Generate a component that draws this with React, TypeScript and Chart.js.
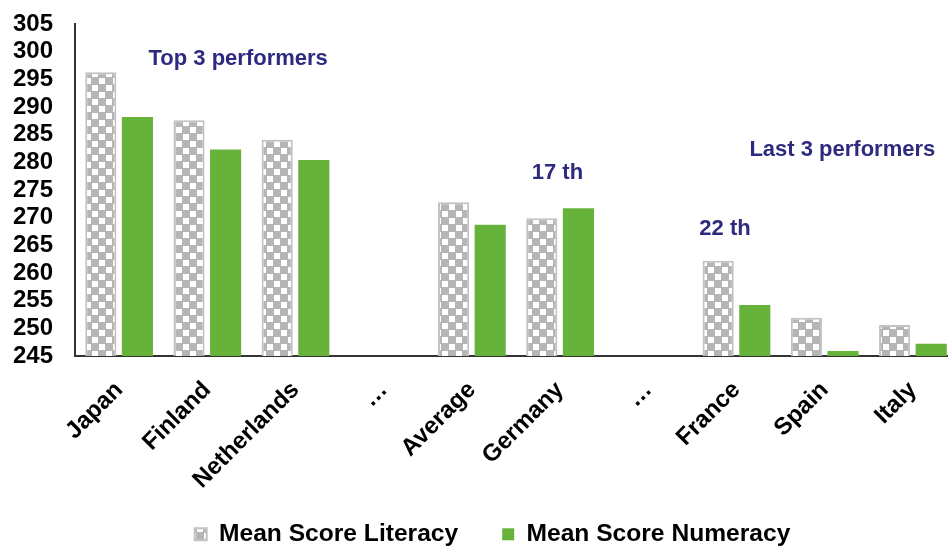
import React, { useEffect, useRef } from "react";
import { Chart, registerables } from "chart.js";

Chart.register(...registerables);

const categories = ["Japan", "Finland", "Netherlands", "…", "Average", "Germany", "…", "France", "Spain", "Italy"];
const literacy = [296.3, 287.6, 284.1, null, 272.8, 269.9, null, 262.2, 251.9, 250.6];
const numeracy = [288.2, 282.3, 280.4, null, 268.7, 271.7, null, 254.2, 245.9, 247.2];
const yTicks = [245, 250, 255, 260, 265, 270, 275, 280, 285, 290, 295, 300, 305];
const seriesNames = ["Mean Score Literacy", "Mean Score Numeracy"];

const annotationTexts = ["Top 3 performers", "17 th", "22 th", "Last 3 performers"];
const annotationCat = [1.35, 4.97, 6.87, 8.2];
const annotationVal = [298.6, 278.1, 268.0, 282.2];

const FONT = "'Liberation Sans', Arial, sans-serif";
const X_AXIS_HEIGHT = 140;
const PLOT_BOTTOM = 356;
const LEGEND_TEXT_Y = 534;

export default function App() {
  const ref = useRef<HTMLCanvasElement | null>(null);

  useEffect(() => {
    const canvas = ref.current;
    if (!canvas) return;
    const ctx = canvas.getContext("2d")!;

    const tile = document.createElement("canvas");
    tile.width = 14;
    tile.height = 14;
    const g = tile.getContext("2d")!;
    g.fillStyle = "#b5b5b5";
    g.fillRect(0, 0, 14, 14);
    g.fillStyle = "#ffffff";
    g.fillRect(8, 1, 6, 6);
    g.fillRect(1, 8, 6, 6);
    const pattern = ctx.createPattern(tile, "repeat")!;

    const annotations = {
      id: "annotations",
      afterDatasetsDraw(chart: any) {
        const x = chart.scales.x;
        const y = chart.scales.y;
        const x0 = x.getPixelForValue(0);
        const x1 = x.getPixelForValue(1);
        const c = chart.ctx;
        c.save();
        c.fillStyle = "#2e2a80";
        c.font = `bold 22px ${FONT}`;
        c.textAlign = "center";
        c.textBaseline = "middle";
        annotationTexts.forEach((t, i) => {
          c.fillText(t, x0 + annotationCat[i] * (x1 - x0), y.getPixelForValue(annotationVal[i]));
        });
        c.restore();
      },
    };

    const legendLayout = {
      id: "legendLayout",
      beforeLayout(chart: any) {
        const l = chart.legend;
        if (l && !l.__patched) {
          const orig = l.fit.bind(l);
          l.fit = function () {
            orig();
            this.height = chart.height - PLOT_BOTTOM - X_AXIS_HEIGHT;
          };
          l.__patched = true;
        }
      },
      afterLayout(chart: any) {
        const l = chart.legend;
        if (l) {
          const pad = l.options.labels.padding;
          l.left += 14;
          l.right += 14;
          l.top = LEGEND_TEXT_Y - 12 - pad;
          l.bottom = chart.height;
          l.height = l.bottom - l.top;
        }
      },
    };

    const chart = new Chart(ctx, {
      type: "bar",
      data: {
        labels: categories,
        datasets: [
          {
            label: seriesNames[0],
            data: literacy as any,
            backgroundColor: pattern as any,
            borderColor: "#c2c2c2",
            borderWidth: 2,
            barPercentage: 0.85,
            categoryPercentage: 0.83,
          },
          {
            label: seriesNames[1],
            data: numeracy as any,
            backgroundColor: "#67b23a",
            borderColor: "#67b23a",
            borderWidth: 0,
            barPercentage: 0.85,
            categoryPercentage: 0.83,
          },
        ],
      },
      options: {
        responsive: false,
        animation: false,
        devicePixelRatio: 1,
        layout: { padding: { top: 24, left: 0, right: 0, bottom: 0 } },
        plugins: {
          tooltip: { enabled: false },
          legend: {
            position: "bottom",
            labels: {
              boxWidth: 12,
              boxHeight: 12,
              padding: 44,
              color: "#000",
              font: { family: FONT, size: 24.6, weight: "bold" },
            },
          },
        },
        scales: {
          x: {
            grid: { display: false, drawTicks: false },
            border: { display: true, color: "#333333", width: 2 },
            ticks: {
              color: "#000",
              font: { family: FONT, size: 24, weight: "bold" },
              maxRotation: 45,
              minRotation: 45,
              autoSkip: false,
              padding: 20,
            },
            afterFit: (s: any) => {
              s.height = X_AXIS_HEIGHT;
            },
          },
          y: {
            min: 245,
            max: 305,
            grid: { display: false, drawTicks: false },
            border: { display: true, color: "#333333", width: 2 },
            ticks: {
              color: "#000",
              font: { family: FONT, size: 24, weight: "bold" },
              padding: 22,
              autoSkip: false,
            },
            afterBuildTicks: (s: any) => {
              s.ticks = yTicks.map((v) => ({ value: v }));
            },
            afterFit: (s: any) => {
              s.width = 75;
              s.paddingTop = 0;
              s.paddingBottom = 0;
            },
          },
        },
      },
      plugins: [annotations, legendLayout],
    });

    return () => chart.destroy();
  }, []);

  return (
    <div style={{ position: "fixed", left: 0, top: 0, width: 948, height: 547, overflow: "hidden", background: "#fff" }}>
      <canvas ref={ref} width={957} height={547} style={{ width: 957, height: 547, display: "block" }} />
    </div>
  );
}
